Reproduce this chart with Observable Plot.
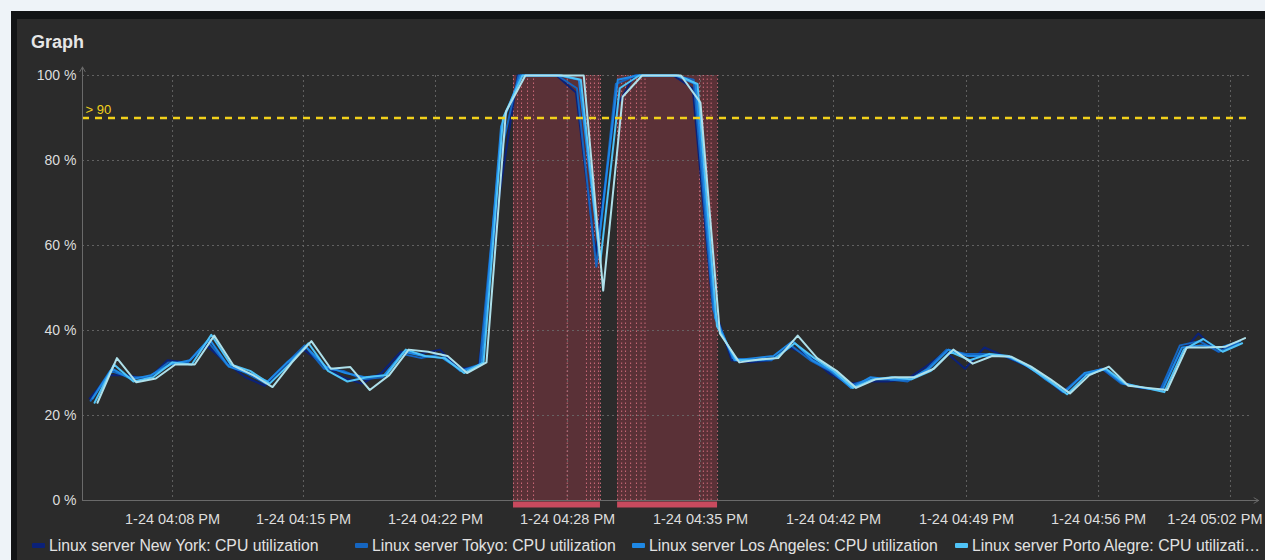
<!DOCTYPE html>
<html><head><meta charset="utf-8">
<script src="https://cdn.jsdelivr.net/npm/d3@7"></script>
<script src="https://cdn.jsdelivr.net/npm/@observablehq/plot@0.6"></script>
<style>
html,body{margin:0;padding:0;background:#eef3f8;width:1265px;height:560px;overflow:hidden;font-family:"Liberation Sans",Arial,sans-serif;position:relative;}
#frame{position:absolute;left:11px;top:11px;right:0;bottom:0;background:#121416;}
#panel{position:absolute;left:17px;top:19px;right:0;bottom:0;background:#2b2b2b;}
#title{position:absolute;left:31px;top:32px;font-size:18px;font-weight:bold;color:#e6e6e6;}
#chart{position:absolute;left:0;top:0;}
.leg{position:absolute;top:537px;font-size:15.8px;color:#e2e2e2;white-space:nowrap;}
.sw{display:inline-block;width:13px;height:5px;border-radius:1px;margin-right:4px;vertical-align:middle;position:relative;top:-1px;}
</style></head>
<body>
<div id="frame"></div>
<div id="panel"></div>
<div id="title">Graph</div>
<div id="chart"></div>
<div id="legend"></div>
<script>
// ---- data ----
const minutes = d3.range(60); // 1-minute samples
const seriesNames = [
  "Linux server New York: CPU utilization",
  "Linux server Tokyo: CPU utilization",
  "Linux server Los Angeles: CPU utilization",
  "Linux server Porto Alegre: CPU utilization",
  "series 5"
];
// legend text exactly as shown (last entry is shortened in the original)
const legendLabels = [
  "Linux server New York: CPU utilization",
  "Linux server Tokyo: CPU utilization",
  "Linux server Los Angeles: CPU utilization",
  "Linux server Porto Alegre: CPU utilizati…"
];
const seriesColors = ["#0b2178", "#1565c0", "#1e88e5", "#4fc3f7", "#aee0ea"];
const seriesOffsets = [-0.35, -0.3, -0.2, -0.1, 0.05];
const newYork = [24,29.5,29.5,28.5,33,32.5,36.5,32.5,29,27,
  31.5,35.5,32,29,27.5,30,35,34.5,35.5,31,
  31.5,70,100,100,100,96,58,92,100,100,
  100,97,47,33,32.5,33,36,34,30,27.5,
  28,28,28.5,31.5,35,31,36,34,32,29.5,
  25.5,29,31,28,26.5,26,34,39.3,35,37];
const tokyo = [23.5,30.5,29,29,32.5,32.5,37.5,32,30,27.5,
  32,36.5,31,30.5,28.5,29,34.5,33.5,34.5,30.5,
  32,80,100,100,100,97,55,98,100,100,
  100,99,45,33.5,33,33,36.5,33,30.5,27,
  28.5,28.5,28,31,35.5,34.5,34.5,34,32,29,
  25.5,29.5,31,27.5,26.5,26,36.5,37.5,35,37];
const losAngeles = [24,31,28.5,29.5,32,33,38,31.5,30,28,
  32.5,36,31.5,30,29,29.5,35,34,33.5,30.5,
  32,88,100,100,100,99,60,99,100,100,
  100,98,43,33,33.5,34,37.5,33,30.5,26.5,
  29,28.5,28.5,31,35.5,34,34,34,32,28.5,
  25.5,30,31,27.5,26.5,26,36,36.5,36,37.5];
const portoAlegre = [23,32,28,29,32.5,32,39,32,30.5,27.5,
  32,37,30.5,28,29,29.5,35.5,34,33.5,30,
  32.5,90,100,100,100,99,56,97,100,100,
  100,98,41,33,33,33.5,37,33.5,30.5,26.5,
  28.5,29,28.5,30.5,35,33,34.5,34,31.5,28.5,
  25,29.5,31,27.5,26.5,25.5,35.5,38,35,37];
const series5 = [23,33.5,27.8,28.7,32,32,38.8,31.7,29.5,26.7,
  32.5,37.5,31,31.4,26,29.5,35.5,35,34,30,
  32.5,91.5,100,100,100,100,49.4,95,100,100,
  100,93.6,39.3,32.5,33.2,33.5,38.8,33.5,30.5,26.5,
  28.5,29,29,31,35.5,32.2,34,33.8,31.5,28.5,
  25.2,29.5,31.5,27,26.5,26,36,36,36.2,38.2];
const allValues = [newYork, tokyo, losAngeles, portoAlegre, series5];

const xTicks = [3.91, 10.64, 17.43, 24.22, 31.05, 37.89, 44.73, 51.52, 58.30];
const xTickLabels = ["1-24 04:08 PM","1-24 04:15 PM","1-24 04:22 PM","1-24 04:28 PM","1-24 04:35 PM","1-24 04:42 PM","1-24 04:49 PM","1-24 04:56 PM","1-24 05:02 PM"];
const yTicks = [0, 20, 40, 60, 80, 100];
const yTickLabels = ["0 %","20 %","40 %","60 %","80 %","100 %"];
const threshold = 90;
const thresholdLabel = "> 90";
const problemStart = [21.44, 26.79];
const problemEnd = [25.91, 31.93];
const problemMarks = [21.44,21.65,21.85,22.16,22.47,24.2,25.19,25.4,25.6,25.81,25.91,
  26.79,27.0,27.2,27.46,27.76,28.0,28.2,31.0,31.2,31.4,31.6,31.93];
const xMin = -0.72, xMax = 59.33;

// ---- build ----
const rows = [];
allValues.forEach((vals, s) => vals.forEach((v, i) => rows.push({t: minutes[i] + seriesOffsets[s], v, s: seriesNames[s]})));
const bands = problemStart.map((a, i) => ({x1: a, x2: problemEnd[i]}));

const grid = {stroke: "#6b6b6b", strokeOpacity: 0.85, strokeDasharray: "2,3"};
const chart = Plot.plot({
  width: 1265, height: 535,
  marginTop: 75, marginBottom: 35, marginLeft: 82, marginRight: 15,
  style: {background: "transparent", color: "#dddddd", fontFamily: "'Liberation Sans', Arial, sans-serif", fontSize: "14px"},
  x: {domain: [xMin, xMax], axis: null},
  y: {domain: [0, 100], axis: null},
  color: {domain: seriesNames, range: seriesColors},
  marks: [
    Plot.rect(bands, {x1: "x1", x2: "x2", y1: 0, y2: 100, fill: "#b23c4e", fillOpacity: 0.35}),
    Plot.gridY(yTicks.slice(1), grid),
    Plot.gridX(xTicks, grid),
    Plot.ruleX(problemMarks, {y1: 0, y2: 100, stroke: "#e8788a", strokeOpacity: 0.8, strokeDasharray: "1.5,2.5"}),
    Plot.line(rows, {x: "t", y: "v", z: "s", stroke: "s", strokeWidth: 2, curve: "linear"}),
    Plot.ruleY([threshold], {stroke: "#f2d11b", strokeWidth: 2.5, strokeDasharray: "7,6"}),
    Plot.text([thresholdLabel], {x: xMin, y: threshold, text: d => d, textAnchor: "start", dx: 3, dy: -8, fill: "#f2d11b", fontSize: 13}),
    Plot.arrow([{x1: xMin, y1: 0, x2: xMin, y2: 102}], {x1: "x1", y1: "y1", x2: "x2", y2: "y2", stroke: "#6a6a6a", strokeWidth: 1, headLength: 8}),
    Plot.arrow([{x1: xMin, y1: 0, x2: 59.75, y2: 0}], {x1: "x1", y1: "y1", x2: "x2", y2: "y2", stroke: "#6a6a6a", strokeWidth: 1, headLength: 8}),
    Plot.ruleY(bands, {y: 0, x1: "x1", x2: "x2", stroke: "#c84a5e", strokeWidth: 6, dy: 4}),
    Plot.axisY(yTicks, {tickSize: 0, tickPadding: 6, tickFormat: (d) => yTickLabels[yTicks.indexOf(d)], fill: "#dddddd", fontSize: 14}),
    Plot.text(xTicks.slice(0, -1), {x: d => d, frameAnchor: "bottom", dy: 23, text: (d, i) => xTickLabels[i], fill: "#dddddd", fontSize: 14.5}),
    Plot.text([xTicks[xTicks.length - 1]], {x: d => d, frameAnchor: "bottom", dy: 23, dx: 32, textAnchor: "end", text: () => xTickLabels[xTickLabels.length - 1], fill: "#dddddd", fontSize: 14.5})
  ]
});
document.getElementById("chart").appendChild(chart);

// legend
const legX = [32, 355, 632, 955];
const legend = document.getElementById("legend");
legendLabels.forEach((n, i) => {
  const d = document.createElement("div");
  d.className = "leg";
  d.style.left = legX[i] + "px";
  d.innerHTML = `<span class="sw" style="background:${seriesColors[i]}"></span>${n}`;
  legend.appendChild(d);
});
</script>
</body></html>
